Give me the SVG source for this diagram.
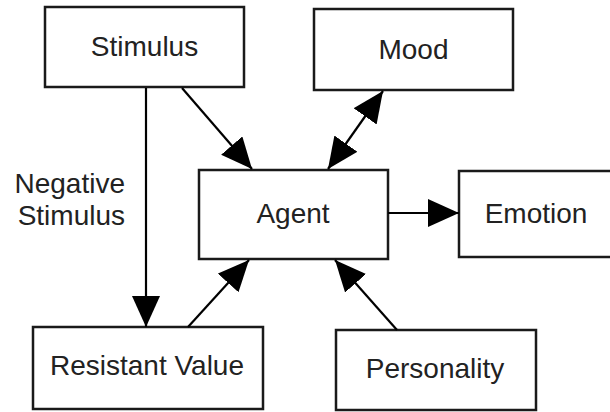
<svg xmlns="http://www.w3.org/2000/svg" width="610" height="412" viewBox="0 0 610 412">
<style>
.box{fill:#fff;stroke:#1a1a1a;stroke-width:2.5}
.lbl{font-family:"Liberation Sans",Arial,sans-serif;font-size:28px;fill:#222;text-anchor:middle}
.edge{stroke:#000;stroke-width:2.2;fill:none}
</style>
<defs>
<marker id="ah" markerUnits="userSpaceOnUse" markerWidth="34" markerHeight="30" refX="31" refY="14" orient="auto-start-reverse" viewBox="0 0 34 30">
<path d="M0,0 L31,14 L0,28 z" fill="#000"/>
</marker>
</defs>
<rect width="610" height="412" fill="#fff"/>
<g id="stimulus"><rect class="box" x="45" y="7" width="199" height="80"/><text class="lbl" x="144.5" y="56">Stimulus</text></g>
<g id="mood"><rect class="box" x="314" y="9" width="199" height="81"/><text class="lbl" x="413.5" y="59">Mood</text></g>
<g id="agent"><rect class="box" x="199" y="170" width="189" height="89"/><text class="lbl" x="293" y="223">Agent</text></g>
<g id="emotion"><rect class="box" x="459" y="171" width="160" height="86"/><text class="lbl" x="536" y="223">Emotion</text></g>
<g id="resistant"><rect class="box" x="33" y="327" width="230" height="82"/><text class="lbl" x="147" y="375">Resistant Value</text></g>
<g id="personality"><rect class="box" x="336" y="330" width="200" height="80"/><text class="lbl" x="435" y="378">Personality</text></g>
<g id="negative-label"><text class="lbl" style="text-anchor:end" x="125" y="193">Negative</text><text class="lbl" style="text-anchor:end" x="125" y="225">Stimulus</text></g>
<g id="connectors">
<line class="edge" x1="182" y1="88" x2="252" y2="169" marker-end="url(#ah)"/>
<line class="edge" x1="146" y1="88" x2="146" y2="327" marker-end="url(#ah)"/>
<line class="edge" x1="188" y1="327" x2="249" y2="260" marker-end="url(#ah)"/>
<line class="edge" x1="328" y1="169" x2="383" y2="91" marker-start="url(#ah)" marker-end="url(#ah)"/>
<line class="edge" x1="388" y1="213" x2="459" y2="213" marker-end="url(#ah)"/>
<line class="edge" x1="397" y1="330" x2="335" y2="260" marker-end="url(#ah)"/>
</g>
</svg>
